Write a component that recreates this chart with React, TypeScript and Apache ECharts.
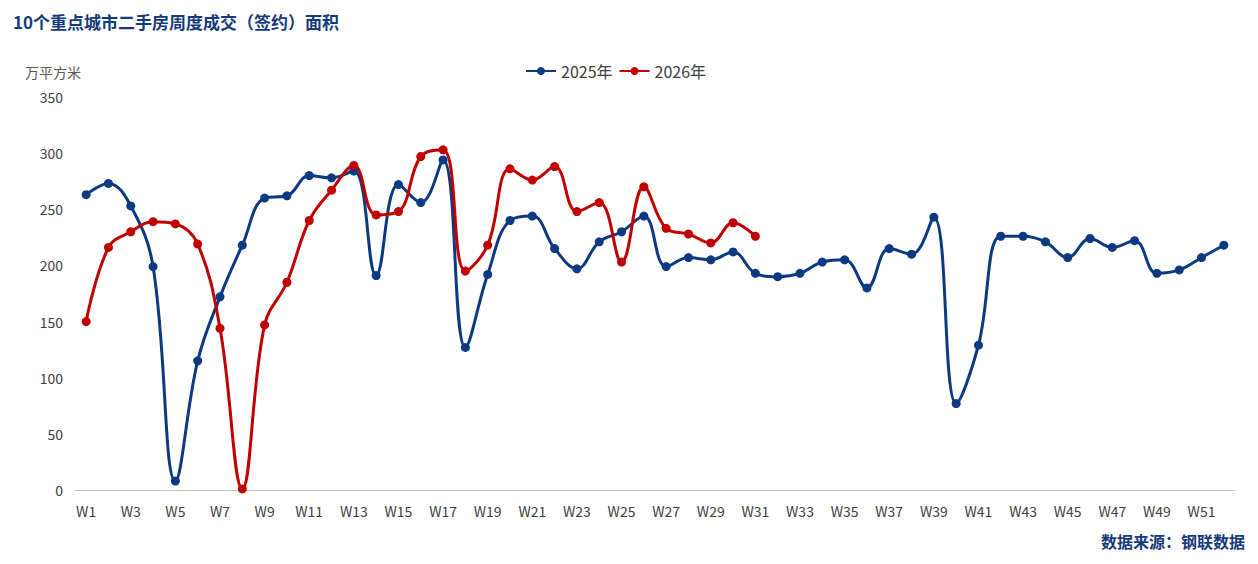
import React, { useEffect, useRef } from 'react';
import * as echarts from 'echarts';

const weeks = Array.from({ length: 52 }, (_, i) => `W${i + 1}`);
const yTicks = [0, 50, 100, 150, 200, 250, 300, 350];

const area2025 = [
  263, 273, 253, 199, 8, 115, 172, 218, 260, 262, 280, 278, 284, 191, 272, 256, 294, 127, 192, 240,
  244, 215, 197, 221, 230, 244, 199, 207, 205, 212, 193, 190, 193, 203, 205, 180, 215, 210, 243, 77,
  129, 226, 226, 221, 207, 224, 216, 222, 193, 196, 207, 218,
];
const area2026 = [
  150, 216, 230, 239, 237, 219, 144, 1, 147, 185, 240, 267, 289, 245, 248, 297, 303, 195, 218, 286,
  276, 288, 248, 256, 203, 270, 233, 228, 220, 238, 226,
];

const font = '"Noto Sans CJK SC", "Noto Sans", sans-serif';

export default function App() {
  const chartRef = useRef<HTMLDivElement>(null);

  useEffect(() => {
    if (!chartRef.current) return;
    const chart = echarts.init(chartRef.current, undefined, { renderer: 'svg' });

    const line = (name: string, data: number[], color: string) => ({
      name,
      type: 'line',
      data,
      smooth: 0.4,
      symbol: 'circle',
      symbolSize: 9,
      lineStyle: { width: 3, color },
      itemStyle: { color },
    });

    chart.setOption({
      animation: false,
      textStyle: { fontFamily: font },
      title: [
        {
          text: '10个重点城市二手房周度成交（签约）面积',
          left: 0,
          top: 0,
          textStyle: { fontSize: 17, fontWeight: 'bold', color: '#143a7b', fontFamily: font },
        },
        {
          text: '万平方米',
          left: 12,
          top: 52,
          textStyle: { fontSize: 14, fontWeight: 'normal', color: '#595959', fontFamily: font },
        },
        {
          text: '数据来源：钢联数据',
          right: 0,
          bottom: 2,
          textStyle: { fontSize: 16, fontWeight: 'bold', color: '#143a7b', fontFamily: font },
        },
      ],
      legend: {
        top: 50,
        left: 512,
        itemWidth: 30,
        itemHeight: 10,
        itemGap: 6,
        textStyle: { fontSize: 16, color: '#404040' },
        data: ['2025年', '2026年'],
      },
      grid: { left: 67, right: 15, top: 89, bottom: 66 },
      xAxis: {
        type: 'category',
        data: weeks,
        boundaryGap: true,
        axisLine: { lineStyle: { color: '#bfbfbf' } },
        axisTick: { show: false },
        axisLabel: { interval: 1, color: '#404040', fontSize: 14, margin: 14 },
      },
      yAxis: {
        type: 'value',
        min: yTicks[0],
        max: yTicks[yTicks.length - 1],
        interval: 50,
        splitLine: { show: false },
        axisLine: { show: false },
        axisLabel: { color: '#404040', fontSize: 14, margin: 12 },
      },
      series: [line('2025年', area2025, '#0b3a82'), line('2026年', area2026, '#c00000')],
    });

    return () => chart.dispose();
  }, []);

  return <div ref={chartRef} style={{ width: 1242, height: 548 }} />;
}
